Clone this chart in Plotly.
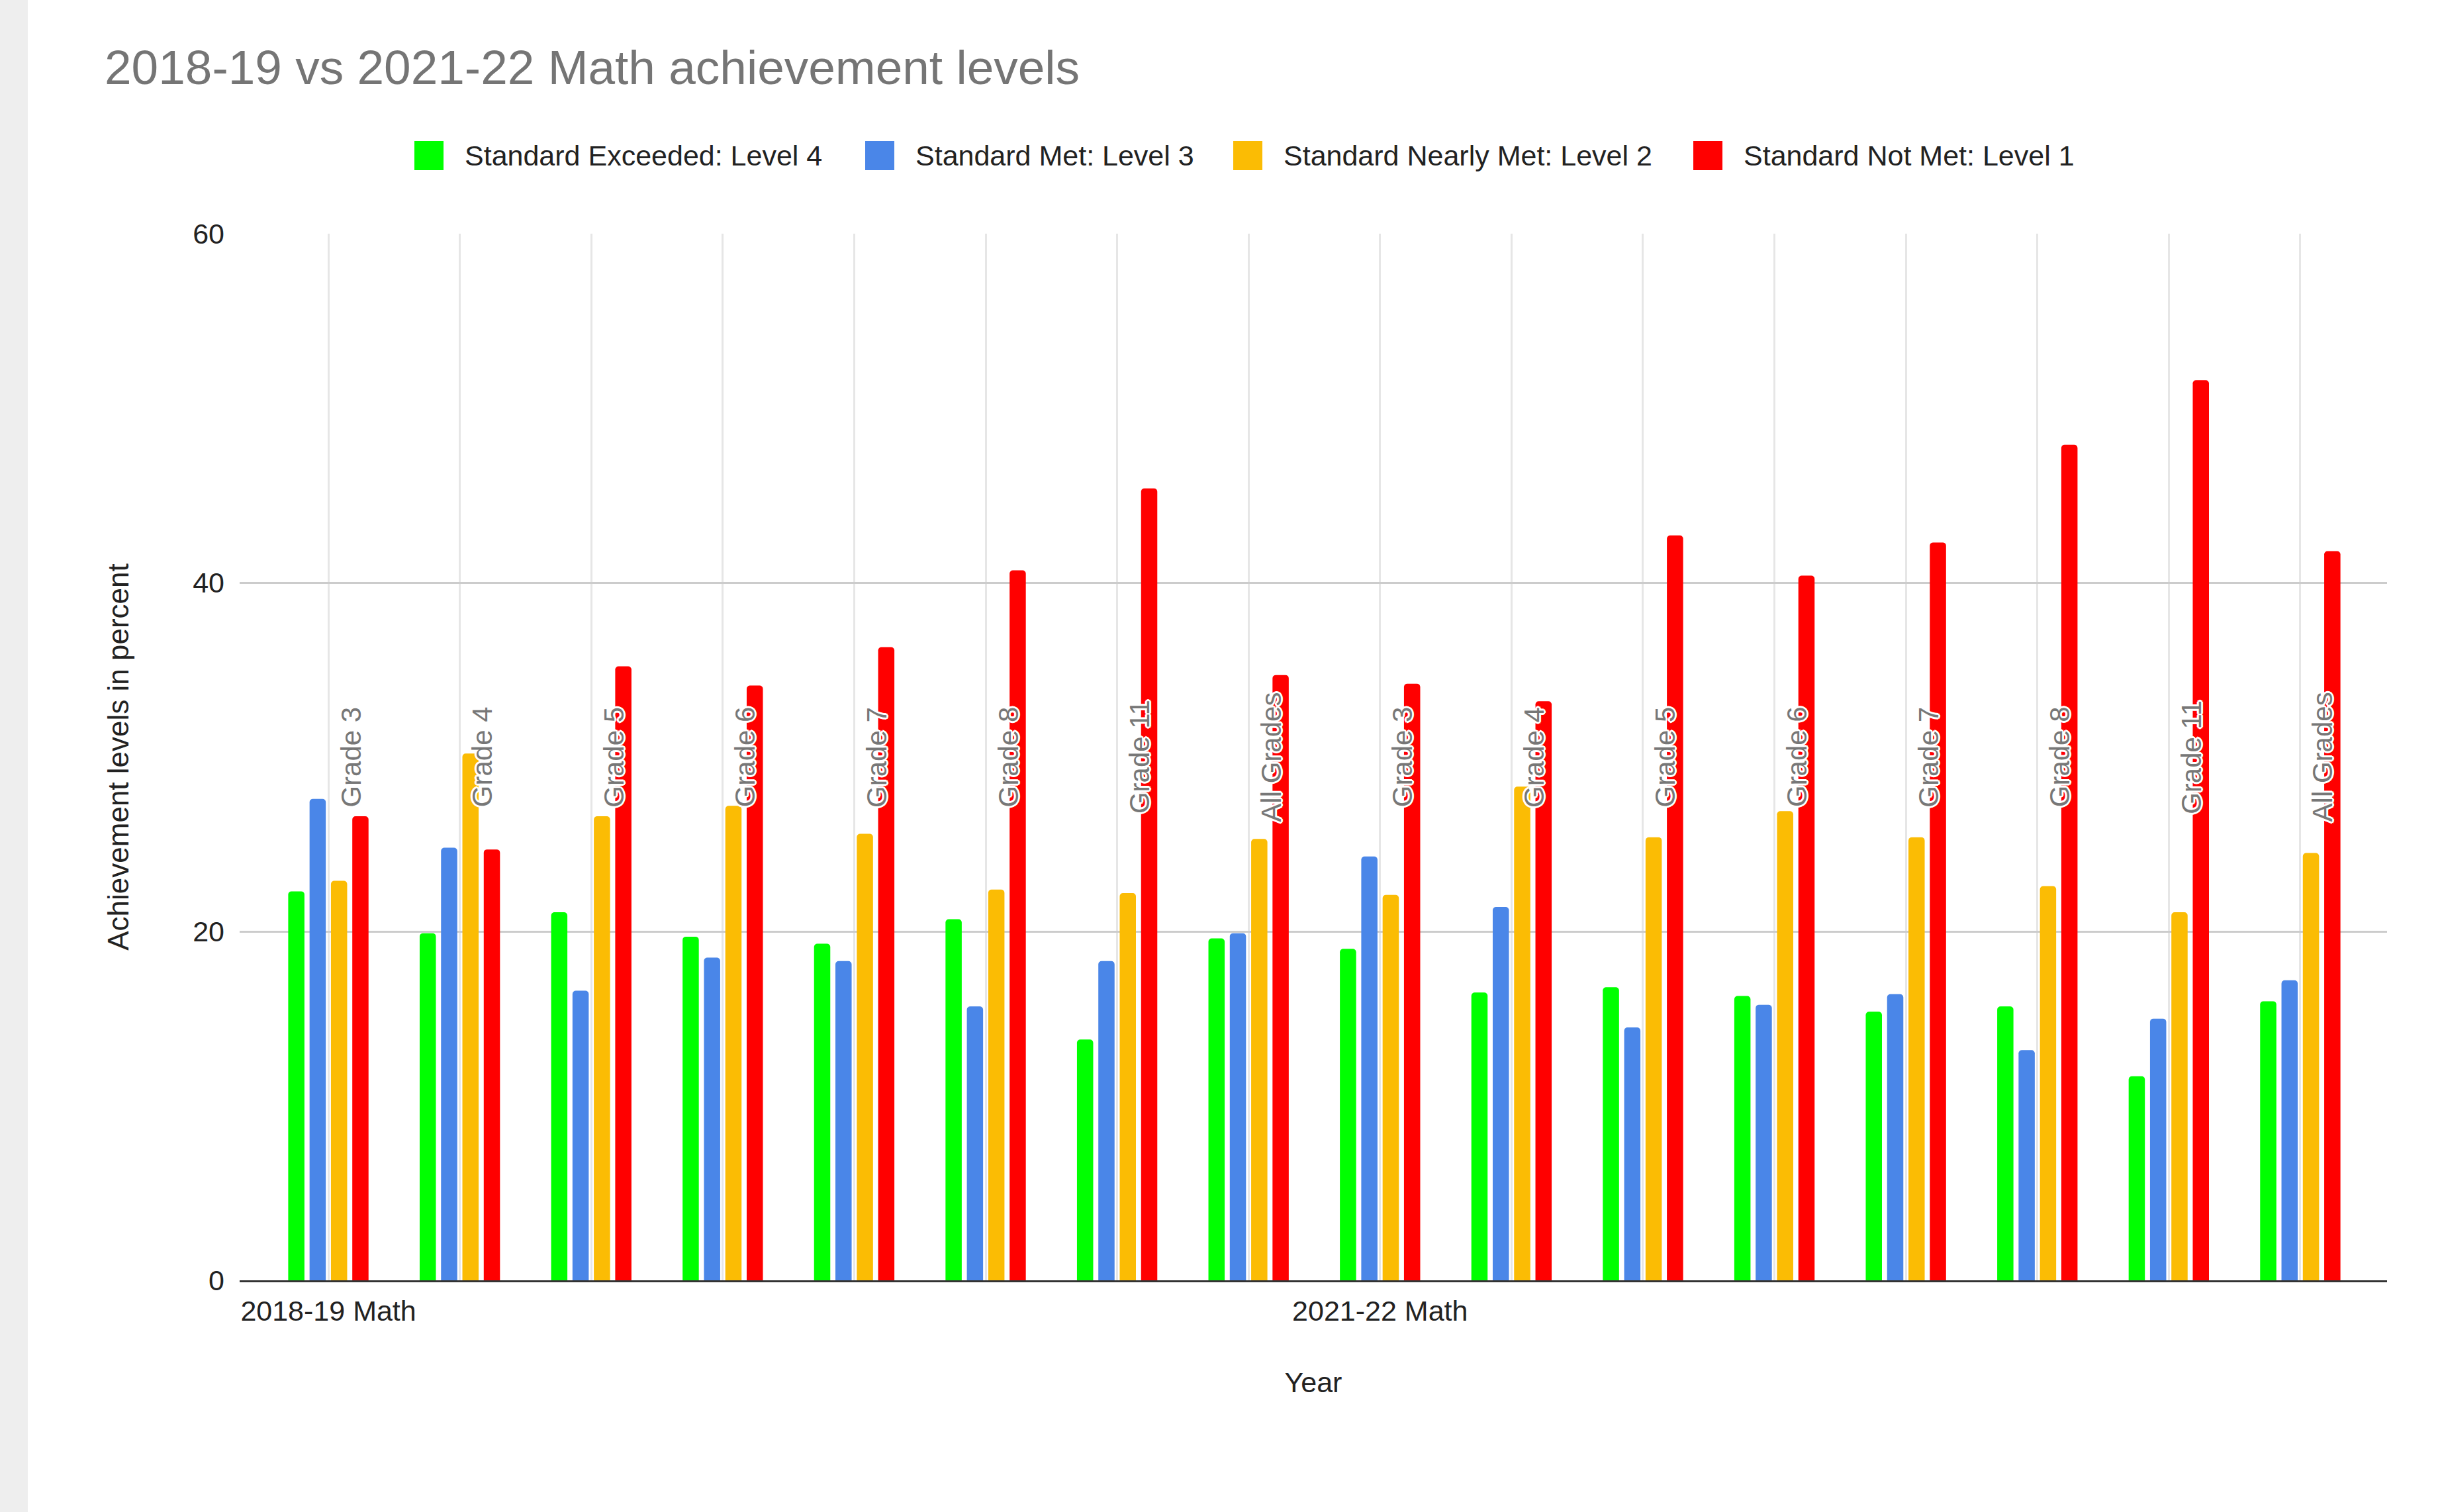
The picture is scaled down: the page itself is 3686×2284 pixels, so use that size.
import plotly.graph_objects as go

# ---------------- data ----------------
years = ["2018-19 Math", "2021-22 Math"]
grades = ["Grade 3", "Grade 4", "Grade 5", "Grade 6", "Grade 7", "Grade 8", "Grade 11", "All Grades"]
series_names = [
    "Standard Exceeded: Level 4",
    "Standard Met: Level 3",
    "Standard Nearly Met: Level 2",
    "Standard Not Met: Level 1",
]
colors = ["#00ff00", "#4a86e8", "#fbbc04", "#ff0000"]

level4 = [22.3, 19.9, 21.1, 19.7, 19.3, 20.7, 13.8, 19.6, 19.0, 16.5, 16.8, 16.3, 15.4, 15.7, 11.7, 16.0]
level3 = [27.6, 24.8, 16.6, 18.5, 18.3, 15.7, 18.3, 19.9, 24.3, 21.4, 14.5, 15.8, 16.4, 13.2, 15.0, 17.2]
level2 = [22.9, 30.2, 26.6, 27.2, 25.6, 22.4, 22.2, 25.3, 22.1, 28.3, 25.4, 26.9, 25.4, 22.6, 21.1, 24.5]
level1 = [26.6, 24.7, 35.2, 34.1, 36.3, 40.7, 45.4, 34.7, 34.2, 33.2, 42.7, 40.4, 42.3, 47.9, 51.6, 41.8]
label_level = 30  # value at which the grade labels sit

y_ticks = [0, 20, 40, 60]

# ---------------- layout constants ----------------
W, H = 3686, 2284
PL, PR, PT, PB = 362, 3606, 353, 1934  # plot area in pixels
FONT = "Liberation Sans, Arial, sans-serif"


def px_x(px):
    return (px - PL) / (PR - PL)


def px_y(py):
    return (PB - py) / (PB - PT)


values = [level4, level3, level2, level1]
n = len(years) * len(grades)
idx = list(range(n))
cat_grade = [grades[i % len(grades)] for i in idx]
tick_text = [years[i // len(grades)] if i % len(grades) == 0 else "" for i in idx]

fig = go.Figure()
for name, col, vals in zip(series_names, colors, values):
    fig.add_trace(go.Bar(
        x=idx, y=vals, name=name, marker=dict(color=col, line=dict(width=0)),
        customdata=cat_grade, showlegend=False,
        hovertemplate="%{customdata}<br>" + name + ": %{y}<extra></extra>",
    ))

shadow = "-3px 0 0 #fff, 3px 0 0 #fff, 0 -3px 0 #fff, 0 3px 0 #fff, 2px 2px 0 #fff, -2px -2px 0 #fff, 2px -2px 0 #fff, -2px 2px 0 #fff"

annotations = []
for i, g in zip(idx, cat_grade):
    annotations.append(dict(
        x=i, y=label_level, xref="x", yref="y", text=g, showarrow=False,
        textangle=-90, xshift=34,
        font=dict(family=FONT, size=42, color="#777777", shadow=shadow),
    ))

# manual legend (large square swatches as in the reference)
legend_left = [626, 1307, 1863, 2558]
legend_cy = 235
sw = 44
shapes = [dict(type="rect", xref="paper", yref="paper",
               x0=px_x(0), x1=px_x(42), y0=px_y(H), y1=px_y(0),
               fillcolor="#eeeeee", line=dict(width=0), layer="above")]
for lx, col, name in zip(legend_left, colors, series_names):
    shapes.append(dict(type="rect", xref="paper", yref="paper",
                       x0=px_x(lx), x1=px_x(lx + sw),
                       y0=px_y(legend_cy + sw / 2), y1=px_y(legend_cy - sw / 2),
                       fillcolor=col, line=dict(width=0)))
    annotations.append(dict(x=px_x(lx + sw + 30), y=px_y(legend_cy), xref="paper", yref="paper",
                            text=name, showarrow=False, xanchor="left", yanchor="middle",
                            font=dict(family=FONT, size=43, color="#222222")))

fig.update_layout(
    width=W, height=H, autosize=False,
    margin=dict(l=PL, r=W - PR, t=PT, b=H - PB, pad=0),
    paper_bgcolor="white", plot_bgcolor="white",
    font=dict(family=FONT, size=43, color="#222222"),
    title=dict(text="2018-19 vs 2021-22 Math achievement levels",
               x=158 / W, xanchor="left", y=1 - 101 / H, yanchor="middle",
               font=dict(family=FONT, size=73, color="#757575")),
    barmode="group", bargap=0.35, bargroupgap=0.24, barcornerradius=5,
    showlegend=False,
    annotations=annotations, shapes=shapes,
    xaxis=dict(
        range=[-0.675, 15.66], tickmode="array", tickvals=idx, ticktext=tick_text,
        showgrid=True, gridcolor="#e6e6e6", gridwidth=3,
        ticks="", showline=True, linecolor="#333333", linewidth=3, zeroline=False,
        tickfont=dict(family=FONT, size=43, color="#222222"), ticklabelstandoff=6,
        automargin=True,
        title=dict(text="Year", font=dict(family=FONT, size=43, color="#222222"), standoff=71),
    ),
    yaxis=dict(
        range=[0, 60], tickmode="array", tickvals=y_ticks,
        showgrid=True, gridcolor="#cccccc", gridwidth=3, zeroline=False, showline=False,
        ticks="", tickfont=dict(family=FONT, size=43, color="#222222"), ticklabelstandoff=22,
        automargin=True,
        title=dict(text="Achievement levels in percent",
                   font=dict(family=FONT, size=44, color="#222222"), standoff=82),
    ),
)

fig.write_html("out.html", config={"displayModeBar": False},
               post_script="document.body.style.margin='0';")
